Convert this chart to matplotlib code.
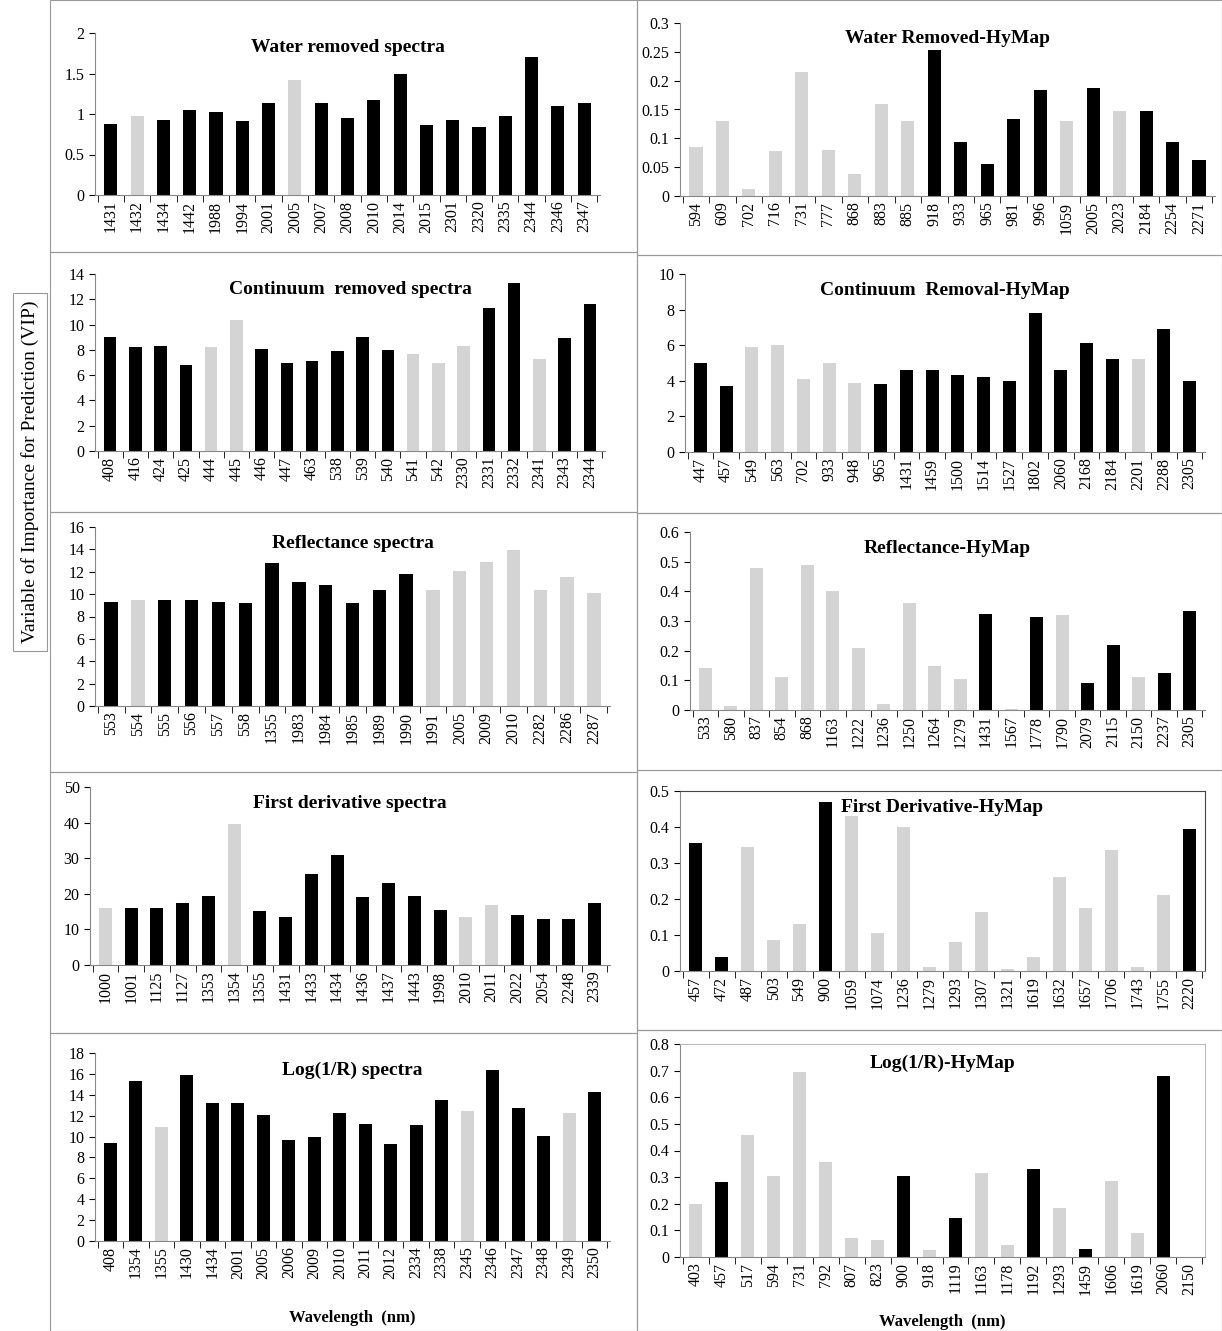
import matplotlib

matplotlib.use("Agg")

import matplotlib.pyplot as plt
from matplotlib.patches import Rectangle

plt.rcParams["font.family"] = ["Liberation Serif", "DejaVu Serif"]

W, H = 1222, 1331
BLACK = "#000000"
GRAY = "#d4d4d4"

# ---- data -------------------------------------------------------------
wr_labels = [1431, 1432, 1434, 1442, 1988, 1994, 2001, 2005, 2007, 2008, 2010,
             2014, 2015, 2301, 2320, 2335, 2344, 2346, 2347]
wr_values = [0.88, 0.97, 0.93, 1.05, 1.02, 0.91, 1.13, 1.42, 1.13, 0.95, 1.17,
             1.49, 0.86, 0.93, 0.84, 0.98, 1.70, 1.10, 1.13]
wr_gray = [1432, 2005]

wrh_labels = [594, 609, 702, 716, 731, 777, 868, 883, 885, 918, 933, 965, 981,
              996, 1059, 2005, 2023, 2184, 2254, 2271]
wrh_values = [0.085, 0.13, 0.012, 0.078, 0.215, 0.08, 0.038, 0.16, 0.13, 0.253,
              0.093, 0.055, 0.133, 0.183, 0.13, 0.188, 0.148, 0.148, 0.093, 0.063]
wrh_gray = [594, 609, 702, 716, 731, 777, 868, 883, 885, 1059, 2023]

cr_labels = [408, 416, 424, 425, 444, 445, 446, 447, 463, 538, 539, 540, 541,
             542, 2330, 2331, 2332, 2341, 2343, 2344]
cr_values = [9.0, 8.2, 8.3, 6.8, 8.2, 10.4, 8.1, 7.0, 7.1, 7.9, 9.0, 8.0, 7.7,
             7.0, 8.3, 11.3, 13.3, 7.3, 8.9, 11.6]
cr_gray = [444, 445, 541, 542, 2330, 2341]

crh_labels = [447, 457, 549, 563, 702, 933, 948, 965, 1431, 1459, 1500, 1514,
              1527, 1802, 2060, 2168, 2184, 2201, 2288, 2305]
crh_values = [5.0, 3.7, 5.9, 6.0, 4.1, 5.0, 3.9, 3.8, 4.6, 4.6, 4.3, 4.2, 4.0,
              7.8, 4.6, 6.1, 5.2, 5.2, 6.9, 4.0]
crh_gray = [549, 563, 702, 933, 948, 2201]

rf_labels = [553, 554, 555, 556, 557, 558, 1355, 1983, 1984, 1985, 1989, 1990,
             1991, 2005, 2009, 2010, 2282, 2286, 2287]
rf_values = [9.3, 9.5, 9.5, 9.5, 9.3, 9.2, 12.8, 11.1, 10.8, 9.2, 10.4, 11.8,
             10.4, 12.1, 12.9, 13.9, 10.4, 11.5, 10.1]
rf_gray = [554, 1991, 2005, 2009, 2010, 2282, 2286, 2287]

rfh_labels = [533, 580, 837, 854, 868, 1163, 1222, 1236, 1250, 1264, 1279, 1431,
              1567, 1778, 1790, 2079, 2115, 2150, 2237, 2305]
rfh_values = [0.14, 0.015, 0.48, 0.11, 0.49, 0.40, 0.21, 0.02, 0.36, 0.15, 0.105,
              0.325, 0.005, 0.315, 0.32, 0.09, 0.22, 0.11, 0.125, 0.335]
rfh_gray = [533, 580, 837, 854, 868, 1163, 1222, 1236, 1250, 1264, 1279, 1567,
            1790, 2150]

fd_labels = [1000, 1001, 1125, 1127, 1353, 1354, 1355, 1431, 1433, 1434, 1436,
             1437, 1443, 1998, 2010, 2011, 2022, 2054, 2248, 2339]
fd_values = [16, 16, 16, 17.5, 19.5, 39.5, 15.2, 13.5, 25.5, 31, 19, 23, 19.5,
             15.5, 13.5, 16.8, 14, 13, 13, 17.5]
fd_gray = [1000, 1354, 2010, 2011]

fdh_labels = [457, 472, 487, 503, 549, 900, 1059, 1074, 1236, 1279, 1293, 1307,
              1321, 1619, 1632, 1657, 1706, 1743, 1755, 2220]
fdh_values = [0.355, 0.04, 0.345, 0.085, 0.13, 0.47, 0.43, 0.105, 0.40, 0.01,
              0.08, 0.165, 0.005, 0.04, 0.26, 0.175, 0.335, 0.01, 0.21, 0.395]
fdh_gray = [487, 503, 549, 1059, 1074, 1236, 1279, 1293, 1307, 1321, 1619, 1632,
            1657, 1706, 1743, 1755]

lg_labels = [408, 1354, 1355, 1430, 1434, 2001, 2005, 2006, 2009, 2010, 2011,
             2012, 2334, 2338, 2345, 2346, 2347, 2348, 2349, 2350]
lg_values = [9.4, 15.3, 10.9, 15.9, 13.2, 13.2, 12.1, 9.7, 10.0, 12.3, 11.2, 9.3,
             11.1, 13.5, 12.4, 16.4, 12.7, 10.1, 12.3, 14.3]
lg_gray = [1355, 2345, 2349]

lgh_labels = [403, 457, 517, 594, 731, 792, 807, 823, 900, 918, 1119, 1163, 1178,
              1192, 1293, 1459, 1606, 1619, 2060, 2150]
lgh_values = [0.20, 0.28, 0.46, 0.305, 0.695, 0.355, 0.07, 0.065, 0.305, 0.025,
              0.145, 0.315, 0.045, 0.33, 0.185, 0.03, 0.285, 0.09, 0.68, 0.0]
lgh_gray = [403, 517, 594, 731, 792, 807, 823, 918, 1163, 1178, 1293, 1606, 1619]

# title, labels, values, gray, ymax, ystep, axes box px, frame, xlabel y px
panels = [
    ("Water removed spectra", wr_labels, wr_values, wr_gray, 2, 0.5,
     (95, 33, 600, 195), False, None),
    ("Water Removed-HyMap", wrh_labels, wrh_values, wrh_gray, 0.3, 0.05,
     (680, 23, 1215, 196), False, None),
    ("Continuum  removed spectra", cr_labels, cr_values, cr_gray, 14, 2,
     (95, 274, 605, 451), False, None),
    ("Continuum  Removal-HyMap", crh_labels, crh_values, crh_gray, 10, 2,
     (685, 274, 1205, 452), False, None),
    ("Reflectance spectra", rf_labels, rf_values, rf_gray, 16, 2,
     (95, 527, 610, 706), False, None),
    ("Reflectance-HyMap", rfh_labels, rfh_values, rfh_gray, 0.6, 0.1,
     (690, 532, 1205, 710), False, None),
    ("First derivative spectra", fd_labels, fd_values, fd_gray, 50, 10,
     (90, 787, 610, 965), False, None),
    ("First Derivative-HyMap", fdh_labels, fdh_values, fdh_gray, 0.5, 0.1,
     (680, 791, 1205, 971), True, None),
    ("Log(1/R) spectra", lg_labels, lg_values, lg_gray, 18, 2,
     (95, 1053, 610, 1241), False, 1318),
    ("Log(1/R)-HyMap", lgh_labels, lgh_values, lgh_gray, 0.8, 0.1,
     (680, 1044, 1205, 1257), True, 1322),
]

# panel boxes (left, top, right, bottom) in pixels
boxes = [
    (50, 0, 637, 252), (637, 0, 1222, 255),
    (50, 252, 637, 512), (637, 255, 1222, 513),
    (50, 512, 637, 772), (637, 513, 1222, 770),
    (50, 772, 637, 1033), (637, 770, 1222, 1030),
    (50, 1033, 637, 1331), (637, 1030, 1222, 1331),
]

fig = plt.figure(figsize=(W / 100, H / 100), dpi=100)

for l, t, r, b in boxes:
    fig.patches.append(Rectangle((l / W, 1 - b / H), (r - l) / W, (b - t) / H,
                                 transform=fig.transFigure, fill=False,
                                 edgecolor="#999999", linewidth=0.8))

for (title, labels, values, gray, ymax, ystep, (l, t, r, b),
     frame, xlab_y) in panels:
    ax = fig.add_axes([l / W, 1 - b / H, (r - l) / W, (b - t) / H])
    x = list(range(len(labels)))
    colors = [GRAY if lab in gray else BLACK for lab in labels]
    ax.bar(x, values, width=0.5, color=colors)
    ax.set_xlim(-0.6, len(labels) - 0.4)
    ax.set_ylim(0, ymax)
    n = int(round(ymax / ystep))
    ticks = [round(i * ystep, 4) for i in range(n + 1)]
    ax.set_yticks(ticks)
    ax.set_yticklabels([f"{v:g}" for v in ticks], fontsize=11.5)
    ax.set_xticks(x)
    ax.set_xticklabels([str(v) for v in labels], rotation=90, fontsize=11.5)
    ax.set_xticks([i + 0.5 for i in range(-1, len(labels))], minor=True)
    ax.tick_params(axis="x", which="major", length=0, pad=4)
    ax.tick_params(axis="x", which="minor", length=5, direction="out")
    ax.tick_params(axis="y", length=4, direction="out")
    ax.spines["left"].set_color("#888888")
    ax.spines["bottom"].set_color("#888888")
    if frame:
        edge = "#444444" if title.startswith("First") else "#bbbbbb"
        ax.spines["top"].set_color(edge)
        ax.spines["right"].set_color(edge)
    else:
        ax.spines["top"].set_visible(False)
        ax.spines["right"].set_visible(False)
    ax.text(0.5, 0.91, title, transform=ax.transAxes, ha="center", va="center",
            fontsize=14, fontweight="bold")
    if xlab_y is not None:
        fig.text((l + r) / 2 / W, 1 - xlab_y / H, "Wavelength  (nm)",
                 ha="center", va="center", fontsize=12, fontweight="bold")

fig.text(30 / W, 1 - 472 / H, "Variable of Importance for Prediction (VIP)",
         rotation=90, ha="center", va="center", fontsize=14,
         bbox=dict(boxstyle="square,pad=0.4", facecolor="white",
                   edgecolor="#999999", linewidth=0.8))

fig.savefig("out.png", dpi=100)
